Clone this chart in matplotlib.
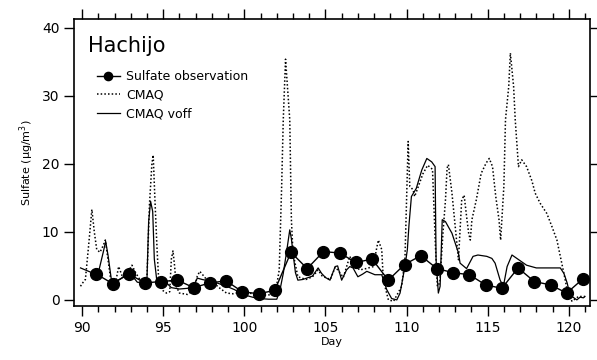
import matplotlib
matplotlib.use("Agg")
import matplotlib.pyplot as plt
from matplotlib.ticker import MultipleLocator

# Observations (daily)
obs_day = [90.875 + i for i in range(31)]
obs_val = [3.8, 2.4, 3.8, 2.5, 2.7, 2.9, 1.8, 2.5, 2.8, 1.2, 0.9, 1.4, 7.0, 4.6, 7.1,
           6.9, 5.5, 6.0, 2.9, 5.2, 6.5, 4.6, 4.0, 3.7, 2.2, 1.7, 4.7, 2.7, 2.2, 1.0, 3.1]

# CMAQ (dotted)
cmaq_day = [89.9, 90.0, 90.2, 90.4, 90.6, 90.75, 90.9, 91.1, 91.3, 91.43, 91.6, 91.74, 91.9,
            92.1, 92.25, 92.5, 92.8, 93.07, 93.3, 93.5, 93.8, 94.0, 94.15, 94.3, 94.38, 94.5,
            94.62, 94.72, 94.9, 95.2, 95.4, 95.5, 95.6, 95.7, 95.8, 96.0, 96.5, 96.9, 97.1,
            97.25, 97.5, 97.8, 98.2, 98.5, 98.9, 99.3, 99.9, 100.5, 101.3, 101.9, 102.15,
            102.3, 102.4, 102.54, 102.7, 102.8, 102.9, 103.0, 103.3, 103.8, 104.2, 104.55,
            104.8, 105.3, 105.6, 105.8, 106.1, 106.5, 106.7, 107.1, 107.5, 107.95, 108.15,
            108.26, 108.47, 108.57, 108.88, 109.2, 109.7, 109.9, 110.0, 110.1, 110.2, 110.4,
            110.5, 110.7, 111.0, 111.3, 111.6, 111.78, 111.9, 112.05, 112.25, 112.4, 112.5,
            112.58, 112.8, 113.0, 113.2, 113.4, 113.55, 113.7, 113.83, 113.93, 114.03, 114.3,
            114.6, 114.9, 115.1, 115.3, 115.5, 115.7, 115.8, 116.0, 116.1, 116.3, 116.4,
            116.6, 116.7, 116.9, 117.1, 117.4, 117.73, 117.93, 118.24, 118.65, 118.96,
            119.27, 119.48, 119.7, 119.9, 120.2, 120.6, 121.0]
cmaq_val = [2.0, 2.4, 3.0, 8.0, 13.3, 10.0, 7.4, 7.0, 8.0, 8.8, 5.9, 3.4, 2.3,
            3.0, 4.9, 3.3, 4.0, 5.1, 4.0, 3.2, 2.6, 3.5, 14.0, 20.0, 21.3, 14.0,
            7.4, 2.9, 1.5, 1.0, 1.2, 6.0, 7.2, 5.0, 2.0, 1.0, 0.8, 1.5, 3.5,
            4.2, 3.5, 2.6, 2.3, 1.7, 1.0, 0.9, 1.2, 0.9, 0.7, 0.8, 4.4,
            16.7, 26.5, 35.4, 30.0, 26.5, 11.8, 6.9, 3.4, 3.0, 3.4, 4.4,
            3.5, 3.0, 4.8, 4.3, 3.3, 6.4, 5.5, 4.4, 4.6, 4.9, 7.5,
            8.8, 7.4, 2.9, 0.0, -0.2, 2.0, 5.9, 14.7, 23.3, 16.7, 16.2,
            15.2, 16.5, 18.5, 19.8, 19.2, 8.0, 2.0, 2.5, 10.0, 14.7, 19.4,
            19.9, 15.7, 10.8, 5.9, 14.7, 15.4, 12.3, 9.8, 8.8, 11.8, 14.7,
            18.6, 20.1, 20.8, 19.6, 15.2, 11.8, 8.8, 16.7, 26.5, 31.4, 36.3,
            31.4, 26.5, 19.6, 20.6, 19.6, 17.5, 15.7, 14.2, 12.7, 10.8,
            8.8, 6.4, 3.9, 1.5, -0.2, 0.5, 0.5]

# CMAQ voff (solid)
voff_day = [89.9, 90.3, 90.7, 91.0, 91.3, 91.45, 91.6, 91.8, 92.1, 92.5, 92.8, 93.1, 93.4,
            93.8, 94.0, 94.1, 94.22, 94.35, 94.45, 94.6, 94.9, 95.2, 95.5, 96.0, 96.5, 96.9,
            97.1, 97.4, 97.8, 98.3, 98.9, 99.4, 99.9, 100.5, 100.9, 101.5, 102.0, 102.2,
            102.4, 102.6, 102.8, 102.9, 103.0, 103.15, 103.3, 103.6, 103.84, 104.2, 104.55,
            104.76, 105.0, 105.28, 105.6, 105.75, 106.0, 106.3, 106.5, 106.7, 107.0, 107.3,
            107.55, 108.05, 108.47, 108.78, 109.08, 109.4, 109.6, 109.9, 110.05, 110.15,
            110.3, 110.6, 110.94, 111.25, 111.55, 111.76, 111.82, 111.96, 112.07, 112.2,
            112.4, 112.8, 113.2, 113.3, 113.7, 114.1, 114.4, 114.95, 115.26, 115.46, 115.77,
            115.97, 116.2, 116.5, 116.8, 117.4, 118.0, 118.55, 119.48, 119.7, 119.9, 120.0,
            120.2, 120.5, 120.7, 120.9, 121.0]
voff_val = [4.7, 4.3, 3.9, 4.0, 7.0, 8.6, 6.5, 3.0, 2.7, 3.3, 3.9, 3.5, 2.6,
            2.5, 3.3, 11.5, 14.5, 13.0, 6.0, 2.9, 2.7, 2.5, 1.8, 1.6, 1.7, 2.2,
            3.2, 3.0, 2.8, 2.5, 2.0, 1.5, 0.8, 0.4, 0.2, 0.1, 0.1, 1.5,
            3.9, 7.0, 10.3, 9.0, 6.9, 4.0, 2.9, 3.0, 3.2, 3.5, 4.7,
            3.9, 3.3, 2.9, 4.9, 5.0, 2.9, 4.4, 4.9, 4.7, 3.4, 3.8,
            4.2, 3.7, 3.7, 1.5, 0.2, 0.0, 1.0, 4.9, 7.4, 11.0,
            15.2, 16.4, 19.1, 20.8, 20.3, 19.6, 5.9, 1.0, 2.0, 11.8,
            11.5, 9.8, 6.9, 5.4, 4.6, 6.4, 6.6, 6.4, 6.1, 5.4, 2.9,
            2.0, 4.9, 6.6, 6.1, 5.1, 4.7, 4.7, 4.7, 3.9, 2.5, 1.5,
            0.5, 0.0, 0.4, 0.3, 0.5]

fig = plt.figure(figsize=(5.97, 3.6), dpi=100)
ax = fig.add_axes([0.124, 0.15, 0.864, 0.797])

ax.plot(obs_day, obs_val, color="black", lw=1.0, marker="o", markersize=8.5,
        label="Sulfate observation", zorder=3)
ax.plot(cmaq_day, cmaq_val, color="black", lw=1.1, linestyle=(0, (1, 1.4)),
        label="CMAQ", zorder=2)
ax.plot(voff_day, voff_val, color="black", lw=0.9, label="CMAQ voff", zorder=2)

ax.set_xlim(89.5, 121.3)
ax.set_ylim(-0.9, 41.3)
ax.xaxis.set_major_locator(MultipleLocator(5))
ax.xaxis.set_minor_locator(MultipleLocator(1))
ax.yaxis.set_major_locator(MultipleLocator(10))
ax.tick_params(axis="both", which="major", direction="out", length=7, width=1,
               labelsize=10, top=True, right=True)
ax.tick_params(axis="x", which="minor", direction="out", length=4, width=1,
               top=True, bottom=True)
ax.set_xlabel("Day", fontsize=8, labelpad=2)
ax.set_ylabel("Sulfate (\u03bcg/m$^3$)", fontsize=8)
for s in ax.spines.values():
    s.set_linewidth(1.2)

ax.text(0.027, 0.905, "Hachijo", transform=ax.transAxes, fontsize=15, va="center", ha="left")
ax.legend(loc="upper left", bbox_to_anchor=(0.035, 0.84), frameon=False, fontsize=9,
          handlelength=1.8, handletextpad=0.5, labelspacing=0.45, borderaxespad=0.0,
          markerscale=0.7)

fig.savefig("out.png", dpi=100)
